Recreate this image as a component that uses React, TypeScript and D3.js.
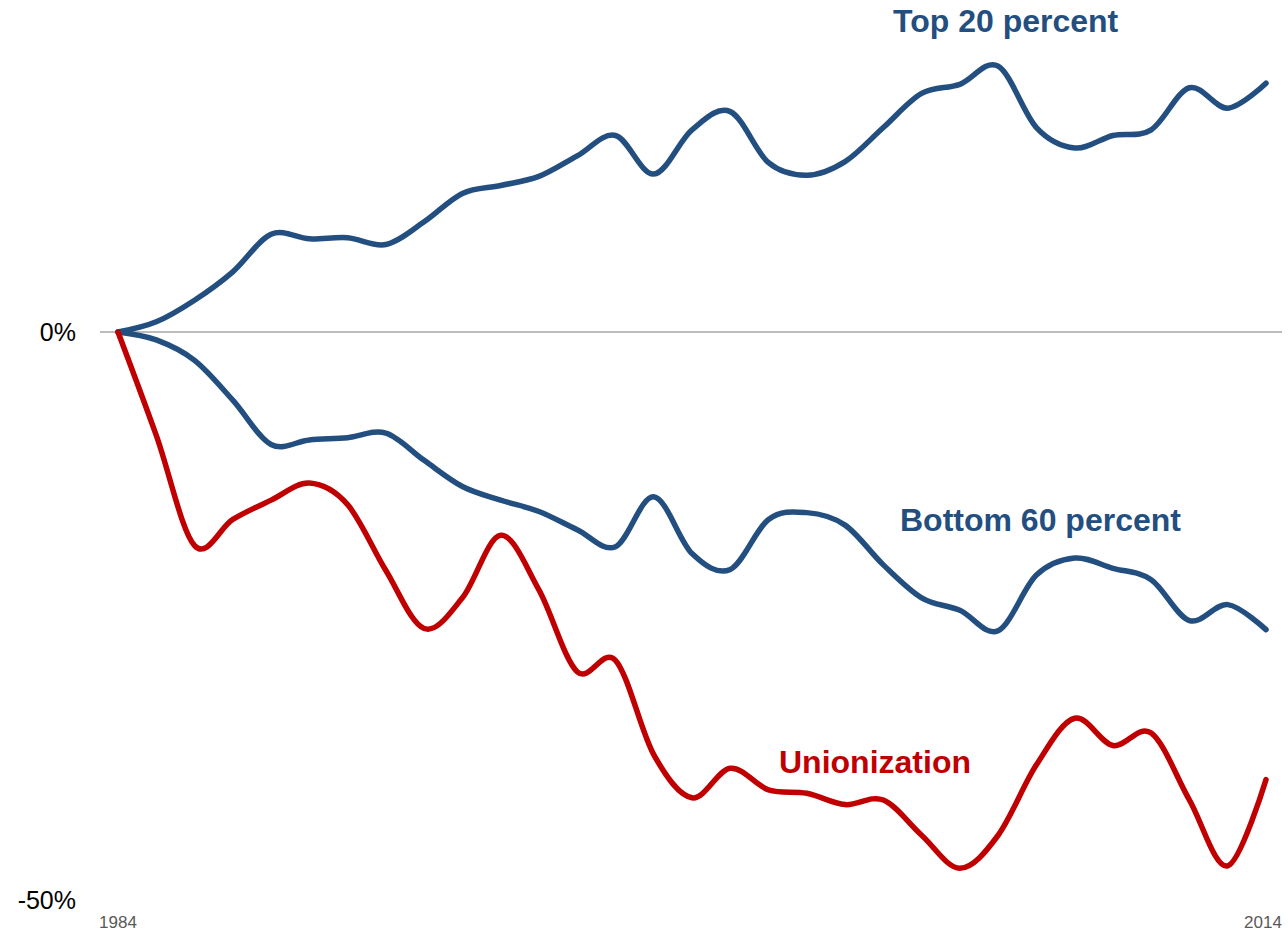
import * as d3 from 'd3';

const years = d3.range(1984, 2015);

// percent change since 1984
const top20 = [
  0, 0.9, 2.8, 5.3, 8.6, 8.2, 8.3, 7.7, 9.7, 12.2, 12.9, 13.7, 15.5, 17.3, 13.9, 17.8,
  19.4, 14.9, 13.8, 15.0, 18.0, 21.0, 21.8, 23.4, 18.0, 16.2, 17.3, 17.8, 21.5, 19.7, 21.9,
];
const bottom60 = [
  0, -0.7, -2.5, -6.0, -9.9, -9.5, -9.3, -8.9, -11.3, -13.6, -14.8, -15.8, -17.4, -18.9, -14.5, -19.5,
  -20.9, -16.5, -15.9, -17.0, -20.5, -23.4, -24.5, -26.3, -21.4, -19.9, -20.8, -21.8, -25.4, -24.0, -26.2,
];
const unionization = [
  0, -9.1, -18.8, -16.5, -14.8, -13.3, -15.2, -21.0, -26.1, -23.4, -17.9, -22.7, -29.9, -28.9, -37.2, -41.0,
  -38.4, -40.3, -40.6, -41.6, -41.2, -44.3, -47.2, -44.3, -38.1, -34.0, -36.4, -35.3, -41.2, -47.0, -39.4,
];

const yTicks = [0, -50];
const xTicks = [1984, 2014];

const BLUE = '#234E80';
const RED = '#C00000';

export default function App() {
  const width = 1288;
  const height = 932;

  const x = d3.scaleLinear().domain([1984, 2014]).range([118, 1266]);
  const y = d3.scaleLinear().domain([-50, 0]).range([900, 332]);

  const line = d3
    .line<number>()
    .x((_, i) => x(years[i]))
    .y((d) => y(d))
    .curve(d3.curveCardinal.tension(0));

  const series = [
    { name: 'Top 20 percent', values: top20, color: BLUE },
    { name: 'Bottom 60 percent', values: bottom60, color: BLUE },
    { name: 'Unionization', values: unionization, color: RED },
  ];

  const font = 'Liberation Sans, Arial, sans-serif';

  return (
    <svg
      width={width}
      height={height}
      style={{ position: 'absolute', left: 0, top: 0, background: '#fff' }}
      fontFamily={font}
    >
      {/* zero line */}
      <line x1={100} x2={1282} y1={y(0)} y2={y(0)} stroke="#A6A6A6" strokeWidth={1.5} />

      {yTicks.map((t) => (
        <text key={t} x={76} y={y(t)} dy="0.36em" textAnchor="end" fontSize={25} fill="#000">
          {t}%
        </text>
      ))}

      {xTicks.map((t) => (
        <text key={t} x={t === 1984 ? x(t) : x(t) - 3} y={928} textAnchor="middle" fontSize={17} fill="#595959">
          {t}
        </text>
      ))}

      {series.map((s) => (
        <path
          key={s.name}
          d={line(s.values) ?? ''}
          fill="none"
          stroke={s.color}
          strokeWidth={5.5}
          strokeLinejoin="round"
          strokeLinecap="round"
        />
      ))}

      <text x={893} y={32} fontSize={32} fontWeight="bold" fill={BLUE}>
        Top 20 percent
      </text>
      <text x={900} y={531} fontSize={32} fontWeight="bold" fill={BLUE}>
        Bottom 60 percent
      </text>
      <text x={779} y={773} fontSize={32} fontWeight="bold" fill={RED}>
        Unionization
      </text>
    </svg>
  );
}
